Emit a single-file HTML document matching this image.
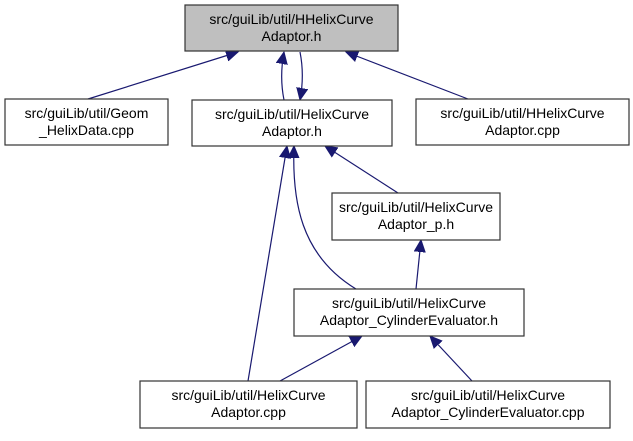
<!DOCTYPE html>
<html><head><style>body{margin:0;background:#fff}</style></head><body>
<svg width="633" height="436" viewBox="0 0 633 436" xmlns="http://www.w3.org/2000/svg" font-family="Liberation Sans, Arial, sans-serif" font-size="14">
<defs><marker id="a" markerWidth="14" markerHeight="14" refX="12" refY="6" orient="auto" markerUnits="userSpaceOnUse"><path d="M0,0.5 L12,6 L0,11.5 z" fill="#191970" stroke="#191970" stroke-width="1"/></marker></defs>
<g fill="none" stroke="#191970" stroke-width="1.2">
<path d="M88,99 L238,52" marker-end="url(#a)"/>
<path d="M284,100 C281,85 281,68 284,52" marker-end="url(#a)"/>
<path d="M300,52 C303,67 303,84 300,100" marker-end="url(#a)"/>
<path d="M468,99 L346,52" marker-end="url(#a)"/>
<path d="M398,193 L325,146" marker-end="url(#a)"/>
<path d="M416,289 L421,240" marker-end="url(#a)"/>
<path d="M356,289 C300,255 292,200 294,146" marker-end="url(#a)"/>
<path d="M248,381 L287,146" marker-end="url(#a)"/>
<path d="M280,381 L362,336" marker-end="url(#a)"/>
<path d="M472,381 L430,336" marker-end="url(#a)"/>
</g>
<g stroke="#333" stroke-width="1.2">
<rect x="185" y="5" width="213" height="46" fill="#bfbfbf"/>
<rect x="5" y="99" width="163" height="46" fill="#fff"/>
<rect x="192" y="100" width="200" height="46" fill="#fff"/>
<rect x="416" y="99" width="213" height="46" fill="#fff"/>
<rect x="332" y="193" width="168" height="47" fill="#fff"/>
<rect x="294" y="289" width="230" height="47" fill="#fff"/>
<rect x="140" y="381" width="217" height="47" fill="#fff"/>
<rect x="366" y="381" width="244" height="47" fill="#fff"/>
</g>
<g fill="#000" text-anchor="middle">
<text x="291.5" y="24">src/guiLib/util/HHelixCurve</text><text x="291.5" y="41">Adaptor.h</text>
<text x="86.5" y="118">src/guiLib/util/Geom</text><text x="86.5" y="135">_HelixData.cpp</text>
<text x="292" y="119">src/guiLib/util/HelixCurve</text><text x="292" y="136">Adaptor.h</text>
<text x="522.5" y="118">src/guiLib/util/HHelixCurve</text><text x="522.5" y="135">Adaptor.cpp</text>
<text x="416" y="212">src/guiLib/util/HelixCurve</text><text x="416" y="229">Adaptor_p.h</text>
<text x="409" y="308">src/guiLib/util/HelixCurve</text><text x="409" y="325">Adaptor_CylinderEvaluator.h</text>
<text x="248.5" y="400">src/guiLib/util/HelixCurve</text><text x="248.5" y="417">Adaptor.cpp</text>
<text x="488" y="400">src/guiLib/util/HelixCurve</text><text x="488" y="417">Adaptor_CylinderEvaluator.cpp</text>
</g>
</svg>
</body></html>
